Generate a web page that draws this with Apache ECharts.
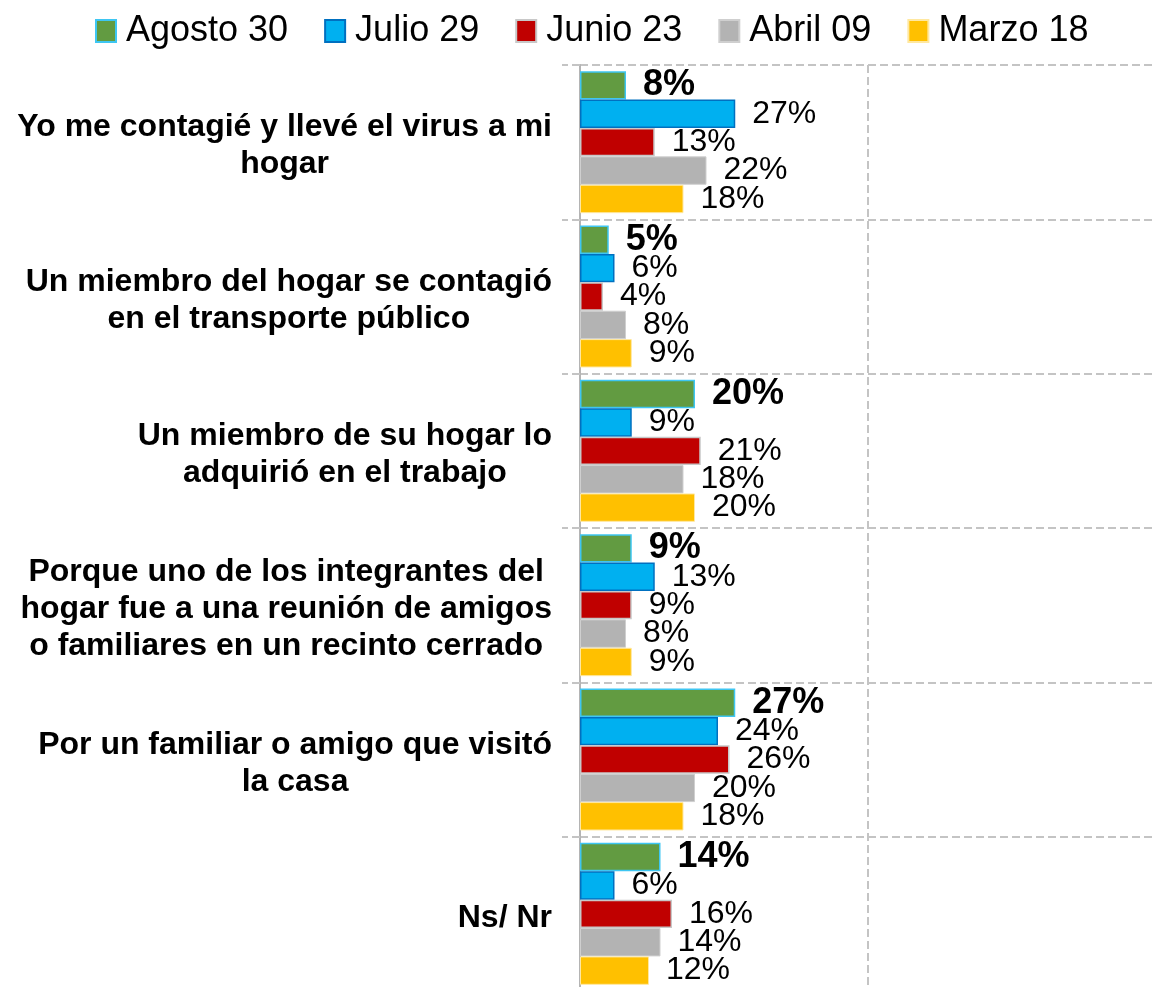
<!DOCTYPE html>
<html>
<head>
<meta charset="utf-8">
<script src="https://cdn.jsdelivr.net/npm/echarts@6/dist/echarts.min.js"></script>
<style>
  html, body { margin: 0; padding: 0; background: #fff; }
  #main { width: 1152px; height: 987px; }
</style>
</head>
<body>
<div id="main"></div>
<script>
var categories = [
  'Yo me contagié y llevé el virus a mi\nhogar',
  'Un miembro del hogar se contagió\nen el transporte público',
  'Un miembro de su hogar lo\nadquirió en el trabajo',
  'Porque uno de los integrantes del\nhogar fue a una reunión de amigos\no familiares en un recinto cerrado',
  'Por un familiar o amigo que visitó\nla casa',
  'Ns/ Nr'
];
var seriesNames = ['Agosto 30', 'Julio 29', 'Junio 23', 'Abril 09', 'Marzo 18'];
var agosto = [8, 5, 20, 9, 27, 14];
var julio = [27, 6, 9, 13, 24, 6];
var junio = [13, 4, 21, 9, 26, 16];
var abril = [22, 8, 18, 8, 20, 14];
var marzo = [18, 9, 20, 9, 18, 12];

var chart = echarts.init(document.getElementById('main'));

var font = '"Liberation Sans", Arial, sans-serif';
var dashed = { color: '#c4c4c4', width: 2, type: [8, 4] };

// colores tipo Excel, con el borde raro de cada serie
var styles = [
  { color: '#629b41', borderColor: '#3ec6f2', borderWidth: 1.5 },
  { color: '#00b0f0', borderColor: '#0070c0', borderWidth: 1.5 },
  { color: '#c00000', borderColor: '#c8c8c8', borderWidth: 1.5 },
  { color: '#b3b3b3', borderColor: '#cfcfcf', borderWidth: 1 },
  { color: '#ffc000', borderColor: '#ffe8a0', borderWidth: 1 }
];
var values = [agosto, julio, junio, abril, marzo];

var series = seriesNames.map(function (name, i) {
  return {
    name: name,
    type: 'bar',
    data: values[i],
    barGap: '0%',
    barCategoryGap: '8%',
    itemStyle: styles[i],
    label: {
      show: true,
      position: 'right',
      distance: 17,
      color: '#000',
      fontFamily: font,
      fontSize: i === 0 ? 36 : 32,
      fontWeight: i === 0 ? 'bold' : 'normal',
      padding: [6, 0, 0, 0],
      formatter: '{c}%'
    }
  };
});

var option = {
  animation: false,
  legend: {
    data: seriesNames,
    top: 13,
    left: 95,
    padding: 0,
    itemWidth: 20,
    itemHeight: 22,
    itemGap: 36,
    icon: 'rect',
    textStyle: { fontFamily: font, fontSize: 36, color: '#000', padding: [0, 0, 0, 5] }
  },
  grid: {
    left: 580,
    right: -3,
    top: 65,
    bottom: -4,
    outerBoundsMode: 'none'
  },
  xAxis: {
    type: 'value',
    min: 0,
    max: 100,
    interval: 50,
    axisLine: { show: false },
    axisTick: { show: false },
    axisLabel: { show: false },
    splitLine: { show: true, lineStyle: dashed }
  },
  yAxis: {
    type: 'category',
    inverse: true,
    data: categories,
    axisLine: { show: true, lineStyle: { color: '#b4b4b4', width: 2 } },
    axisTick: { show: true, length: 18, lineStyle: dashed },
    splitLine: { show: true, lineStyle: dashed },
    axisLabel: {
      margin: 28,
      align: 'right',
      padding: [8, 0, 0, 0],
      formatter: function (v) { return '{c|' + v + '}'; },
      rich: {
        c: {
          align: 'center',
          fontFamily: font,
          fontSize: 32,
          fontWeight: 'bold',
          lineHeight: 37,
          color: '#000'
        }
      }
    }
  },
  series: series
};

chart.setOption(option);
</script>
</body>
</html>
